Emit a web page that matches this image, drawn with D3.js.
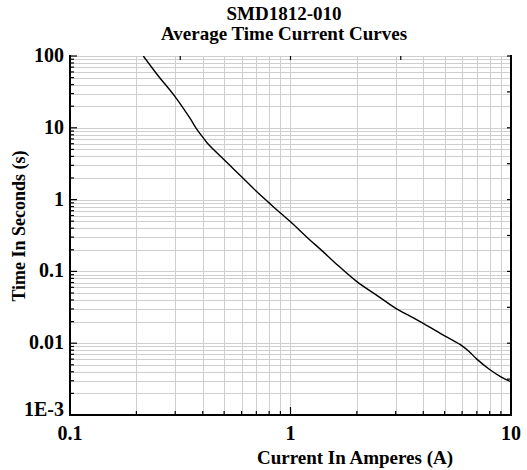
<!DOCTYPE html>
<html><head><meta charset="utf-8">
<script src="https://cdn.jsdelivr.net/npm/d3@7"></script>
<style>
html,body{margin:0;padding:0;background:#fff;}
text{font-family:"Liberation Serif","Times New Roman",serif;font-weight:bold;fill:#000;}
</style></head>
<body>
<svg id="c" width="527" height="470"></svg>
<script>
const titleLines = ["SMD1812-010", "Average Time Current Curves"];
const xLabel = "Current In Amperes (A)";
const yLabel = "Time In Seconds (s)";
const xTickValues = [0.1, 1, 10];
const xTickLabels = ["0.1", "1", "10"];
const yTickValues = [100, 10, 1, 0.1, 0.01, 0.001];
const yTickLabels = ["100", "10", "1", "0.1", "0.01", "1E-3"];
const current = [0.215, 0.25, 0.3, 0.35, 0.3755, 0.4, 0.42, 0.45, 0.5, 0.55, 0.6, 0.65, 0.7, 0.8, 0.9, 1.0, 1.2, 1.4, 1.6, 2.0, 2.5, 3.0, 3.5, 4.0, 5.0, 6.0, 6.5, 7.0, 8.0, 9.0, 10.0];
const seconds = [100, 54, 27, 13.6, 9.6, 7.4, 6.1, 4.9, 3.6, 2.70, 2.08, 1.64, 1.31, 0.90, 0.649, 0.49, 0.29, 0.19, 0.13, 0.072, 0.045, 0.0306, 0.0237, 0.0189, 0.01265, 0.0092, 0.0075, 0.0060, 0.0043, 0.0034, 0.0029];

const svg = d3.select("#c");
const L = 70, R = 511, T = 56, B = 415;
const x = d3.scaleLog().domain([0.1, 10]).range([L, R]);
const y = d3.scaleLog().domain([0.001, 100]).range([B, T]);

const minorX = [], minorY = [];
for (let d = 0.1; d < 10; d *= 10) for (let k = 1; k <= 9; k++) minorX.push(+(d * k).toPrecision(3));
minorX.push(10);
for (let d = 0.001; d < 100; d *= 10) for (let k = 1; k <= 9; k++) minorY.push(+(d * k).toPrecision(3));
minorY.push(100);

const grid = svg.append("g").attr("stroke", "#cfcfcf").attr("stroke-width", 1);
grid.selectAll(".gx").data(minorX).join("line")
  .attr("x1", d => Math.round(x(d)) + 0.5).attr("x2", d => Math.round(x(d)) + 0.5)
  .attr("y1", T).attr("y2", B);
grid.selectAll(".gy").data(minorY).join("line")
  .attr("y1", d => Math.round(y(d)) + 0.5).attr("y2", d => Math.round(y(d)) + 0.5)
  .attr("x1", L).attr("x2", R);

svg.append("clipPath").attr("id", "clip").append("rect")
  .attr("x", L).attr("y", T).attr("width", R - L).attr("height", B - T);
const pts = current.map((c, i) => [c, seconds[i]]);
svg.append("path").datum(pts)
  .attr("clip-path", "url(#clip)")
  .attr("fill", "none").attr("stroke", "#000").attr("stroke-width", 1.4)
  .attr("d", d3.line().x(d => x(d[0])).y(d => y(d[1])).curve(d3.curveCatmullRom.alpha(0.5)));

const isMajor = v => Math.abs(Math.log10(v) - Math.round(Math.log10(v))) < 1e-6;
const ax = svg.append("g").attr("stroke", "#000");
ax.selectAll(".tl").data(minorY).join("line")
  .attr("x1", L).attr("x2", d => L + (isMajor(d) ? 7 : 4))
  .attr("y1", d => y(d)).attr("y2", d => y(d)).attr("stroke-width", 1.2);
ax.selectAll(".tb").data(minorX).join("line")
  .attr("y1", B).attr("y2", d => B - (isMajor(d) ? 8 : 4))
  .attr("x1", d => x(d)).attr("x2", d => x(d)).attr("stroke-width", 1.2);
const halfY = d3.range(-6, 5).map(k => Math.pow(10, k / 2));
ax.selectAll(".tr").data(halfY).join("line")
  .attr("x1", R).attr("x2", R - 4)
  .attr("y1", d => y(d)).attr("y2", d => y(d)).attr("stroke-width", 1.2);
const halfX = d3.range(-2, 3).map(k => Math.pow(10, k / 2));
ax.selectAll(".tt").data(halfX).join("line")
  .attr("y1", T).attr("y2", T + 4)
  .attr("x1", d => x(d)).attr("x2", d => x(d)).attr("stroke-width", 1.2);

ax.append("line").attr("x1", L).attr("x2", L).attr("y1", T - 1).attr("y2", B + 1).attr("stroke-width", 2);
ax.append("line").attr("x1", L - 1).attr("x2", R + 1).attr("y1", B).attr("y2", B).attr("stroke-width", 2);
ax.append("line").attr("x1", R).attr("x2", R).attr("y1", T - 1).attr("y2", B + 1).attr("stroke-width", 2);

svg.selectAll(".yl").data(yTickValues).join("text")
  .attr("x", L - 6).attr("y", (d, i) => y(d) + (i === yTickValues.length - 1 ? 1 : 6))
  .attr("text-anchor", "end").attr("font-size", 20)
  .text((d, i) => yTickLabels[i]);
svg.selectAll(".xl").data(xTickValues).join("text")
  .attr("x", d => x(d)).attr("y", 440)
  .attr("text-anchor", "middle").attr("font-size", 20)
  .text((d, i) => xTickLabels[i]);

svg.selectAll(".title").data(titleLines).join("text")
  .attr("x", 284).attr("y", (d, i) => 20 + i * 20)
  .attr("text-anchor", "middle").attr("font-size", 19)
  .text(d => d);
svg.append("text").attr("x", 355).attr("y", 464)
  .attr("text-anchor", "middle").attr("font-size", 19).text(xLabel);
svg.append("text").attr("transform", "translate(25,226) rotate(-90)")
  .attr("text-anchor", "middle").attr("font-size", 18).text(yLabel);
</script>
</body></html>
